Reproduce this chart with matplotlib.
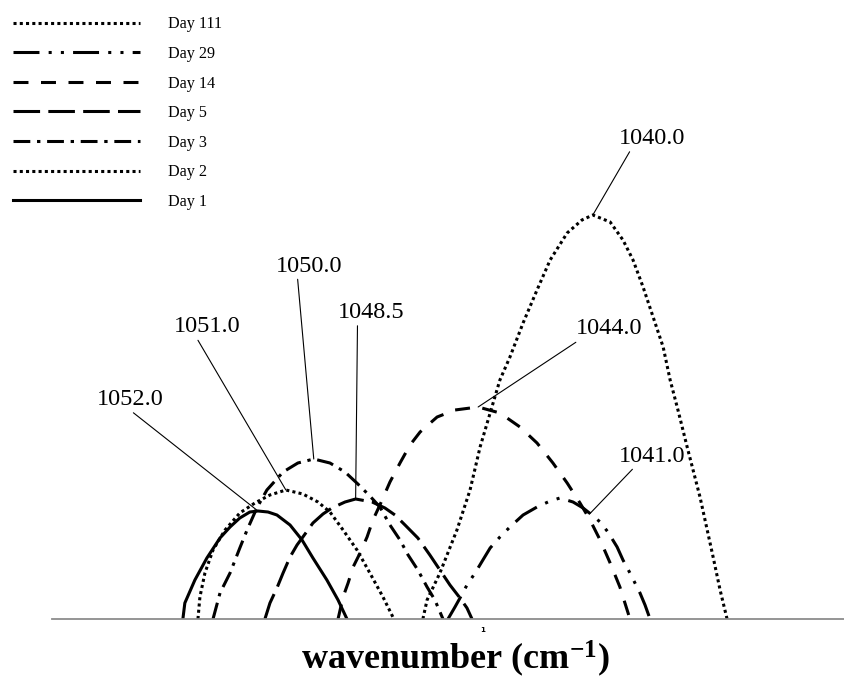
import matplotlib
matplotlib.use("Agg")
import matplotlib.pyplot as plt
import numpy as np

plt.rcParams["mathtext.fontset"] = "custom"
plt.rcParams["mathtext.rm"] = "Liberation Serif:bold"
plt.rcParams["mathtext.default"] = "rm"

# --- values: wavenumber (cm-1) x absorbance (a.u.)
day1_wn = [1054.69, 1054.62, 1054.26, 1053.83, 1053.36, 1053.00, 1052.65, 1052.29, 1052.00,
           1051.64, 1051.32, 1050.85, 1050.42, 1050.03, 1049.53, 1049.13, 1048.81]
day1_abs = [0.00, 0.16, 0.39, 0.61, 0.81, 0.92, 1.01, 1.07, 1.08,
            1.07, 1.04, 0.94, 0.79, 0.61, 0.39, 0.19, 0.00]

day2_wn = [1054.15, 1054.08, 1053.90, 1053.61, 1053.18, 1052.65, 1052.11, 1051.57, 1051.00,
           1050.39, 1049.85, 1049.42, 1048.95, 1048.45, 1047.99, 1047.52, 1047.13]
day2_abs = [0.00, 0.22, 0.46, 0.69, 0.89, 1.06, 1.16, 1.24, 1.29,
            1.25, 1.17, 1.07, 0.89, 0.69, 0.46, 0.22, 0.00]

day3_wn = [1053.61, 1053.36, 1053.00, 1052.65, 1052.39, 1052.04, 1051.68, 1051.10, 1050.57,
           1050.00, 1049.42, 1048.88, 1048.42, 1047.99, 1047.63, 1047.27, 1046.91, 1046.62,
           1046.27, 1045.94, 1045.66, 1045.37]
day3_abs = [0.00, 0.26, 0.46, 0.71, 0.89, 1.11, 1.29, 1.47, 1.56,
            1.60, 1.56, 1.47, 1.35, 1.23, 1.12, 0.94, 0.79, 0.64,
            0.49, 0.32, 0.19, 0.00]

day5_wn = [1051.75, 1051.57, 1051.32, 1051.10, 1050.85, 1050.60, 1050.39, 1050.03, 1049.67,
           1049.35, 1048.88, 1048.50, 1047.91, 1047.45, 1047.09, 1046.73, 1046.27, 1045.84,
           1045.48, 1045.12, 1044.76, 1044.51, 1044.33]
day5_abs = [0.00, 0.16, 0.31, 0.46, 0.62, 0.74, 0.82, 0.96, 1.05,
            1.11, 1.17, 1.20, 1.17, 1.11, 1.04, 0.94, 0.81, 0.64,
            0.49, 0.34, 0.21, 0.11, 0.00]

day14_wn = [1049.13, 1048.95, 1048.77, 1048.59, 1048.34, 1048.09, 1047.88, 1047.63, 1047.27,
            1046.91, 1046.55, 1046.19, 1045.58, 1044.94, 1044.11, 1043.33, 1042.61, 1042.00,
            1041.43, 1040.92, 1040.46, 1040.10, 1039.74, 1039.38, 1039.03, 1038.67]
day14_abs = [0.00, 0.22, 0.36, 0.52, 0.66, 0.82, 0.99, 1.14, 1.37,
             1.56, 1.74, 1.87, 2.02, 2.09, 2.12, 2.06, 1.92, 1.76,
             1.56, 1.36, 1.16, 0.99, 0.79, 0.56, 0.32, 0.00]

day29_wn = [1045.19, 1044.94, 1044.76, 1044.51, 1044.22, 1043.94, 1043.68, 1043.33, 1042.97,
            1042.50, 1042.00, 1041.53, 1041.18, 1040.71, 1040.35, 1040.03, 1039.74, 1039.46,
            1039.13, 1038.92, 1038.67, 1038.31, 1038.13, 1037.95]
day29_abs = [0.00, 0.12, 0.21, 0.34, 0.46, 0.59, 0.71, 0.82, 0.92,
             1.04, 1.12, 1.18, 1.21, 1.17, 1.11, 1.04, 0.97, 0.87,
             0.72, 0.59, 0.46, 0.26, 0.14, 0.00]

day111_wn = [1046.09, 1045.94, 1045.48, 1044.87, 1044.40, 1044.04, 1043.68, 1043.33, 1042.97,
             1042.50, 1042.00, 1041.53, 1040.92, 1040.39, 1040.00, 1039.38, 1038.92, 1038.56,
             1038.20, 1037.84, 1037.48, 1037.23, 1036.95, 1036.62, 1036.16, 1035.69, 1035.44,
             1035.19]
day111_abs = [0.00, 0.19, 0.46, 0.89, 1.29, 1.72, 2.06, 2.39, 2.62,
              2.96, 3.29, 3.59, 3.86, 3.99, 4.04, 3.97, 3.79, 3.59,
              3.32, 3.02, 2.72, 2.39, 2.09, 1.72, 1.22, 0.62, 0.29,
              0.00]

days = ["Day 111", "Day 29", "Day 14", "Day 5", "Day 3", "Day 2", "Day 1"]
peak_labels = ["1040.0", "1041.0", "1044.0", "1048.5", "1050.0", "1051.0", "1052.0"]

series = {
    "Day 111": (day111_wn, day111_abs),
    "Day 29": (day29_wn, day29_abs),
    "Day 14": (day14_wn, day14_abs),
    "Day 5": (day5_wn, day5_abs),
    "Day 3": (day3_wn, day3_abs),
    "Day 2": (day2_wn, day2_abs),
    "Day 1": (day1_wn, day1_abs),
}

# dash patterns in units of line width
estilos = {
    "Day 111": (0, (1, 1.05)),
    "Day 29": (0, (8.5, 3, 1, 3, 1, 3)),
    "Day 14": (0, (4.9, 4.1)),
    "Day 5": (0, (8.7, 2.7)),
    "Day 3": (0, (5.5, 2.2, 1.1, 2.2)),
    "Day 2": (0, (1, 1.05)),
    "Day 1": "-",
}

# where each peak label sits (text centre, data coords) and where its leader leaves the text
rotulos = {
    "Day 111": ((1037.88, 4.805), 0.22),
    "Day 29": ((1037.88, 1.63), 0.30),
    "Day 14": ((1039.42, 2.90), 0.15),
    "Day 5": ((1047.93, 3.065), 0.29),
    "Day 3": ((1050.17, 3.53), 0.32),
    "Day 2": ((1053.81, 2.92), 0.30),
    "Day 1": ((1056.57, 2.195), 0.42),
}

W, H = 844, 679
fig = plt.figure(figsize=(W / 100, H / 100), dpi=100)
ax = fig.add_axes([52 / W, 60 / H, 792 / W, 619 / H])

handles = []
for dia in days:
    wn, ab = series[dia]
    (ln,) = ax.plot(wn, ab, color="black", lw=2.2, linestyle=estilos[dia],
                    dash_capstyle="butt", solid_joinstyle="round", label=dia)
    handles.append(ln)

for dia, texto in zip(days, peak_labels):
    wn, ab = np.asarray(series[dia][0]), np.asarray(series[dia][1])
    if dia == "Day 29":
        # the leader in the original lands on the falling side, not on the top
        alvo = (1040.10, float(np.interp(1040.10, wn[::-1], ab[::-1])))
    else:
        i = int(np.argmax(ab))
        alvo = (wn[i], ab[i])
    pos, rx = rotulos[dia]
    ax.annotate(
        texto, xy=alvo, xytext=pos, textcoords="data",
        ha="center", va="center", fontsize=17.5, family="Liberation Serif",
        arrowprops=dict(arrowstyle="-", lw=0.8, color="black",
                        shrinkA=0, shrinkB=0, relpos=(rx, 0.18)),
    )

ax.set_xlim(1059.38, 1031.0)
ax.set_ylim(0, 6.19)
for lado in ["top", "left", "right"]:
    ax.spines[lado].set_visible(False)
ax.spines["bottom"].set_color("#8c8c8c")
ax.spines["bottom"].set_linewidth(1.3)
ax.set_yticks([])
ax.set_xticks([1043.94])
ax.set_xticklabels(["1"], fontsize=5, fontweight="bold")
ax.tick_params(axis="x", length=0, pad=5.5)

ax.set_xlabel("wavenumber (cm$^{-1}$)", fontsize=26, fontweight="bold",
              family="Liberation Serif")
ax.xaxis.set_label_coords((455 - 52) / 792, -0.031)

fig.legend(handles, days, loc="upper left", bbox_to_anchor=(13 / W, 1 - 16.5 / H),
           frameon=False, borderpad=0, borderaxespad=0, handlelength=7.9,
           handletextpad=1.7, labelspacing=0.84,
           prop={"family": "Liberation Serif", "size": 11.6})

fig.savefig("out.png", dpi=100)
